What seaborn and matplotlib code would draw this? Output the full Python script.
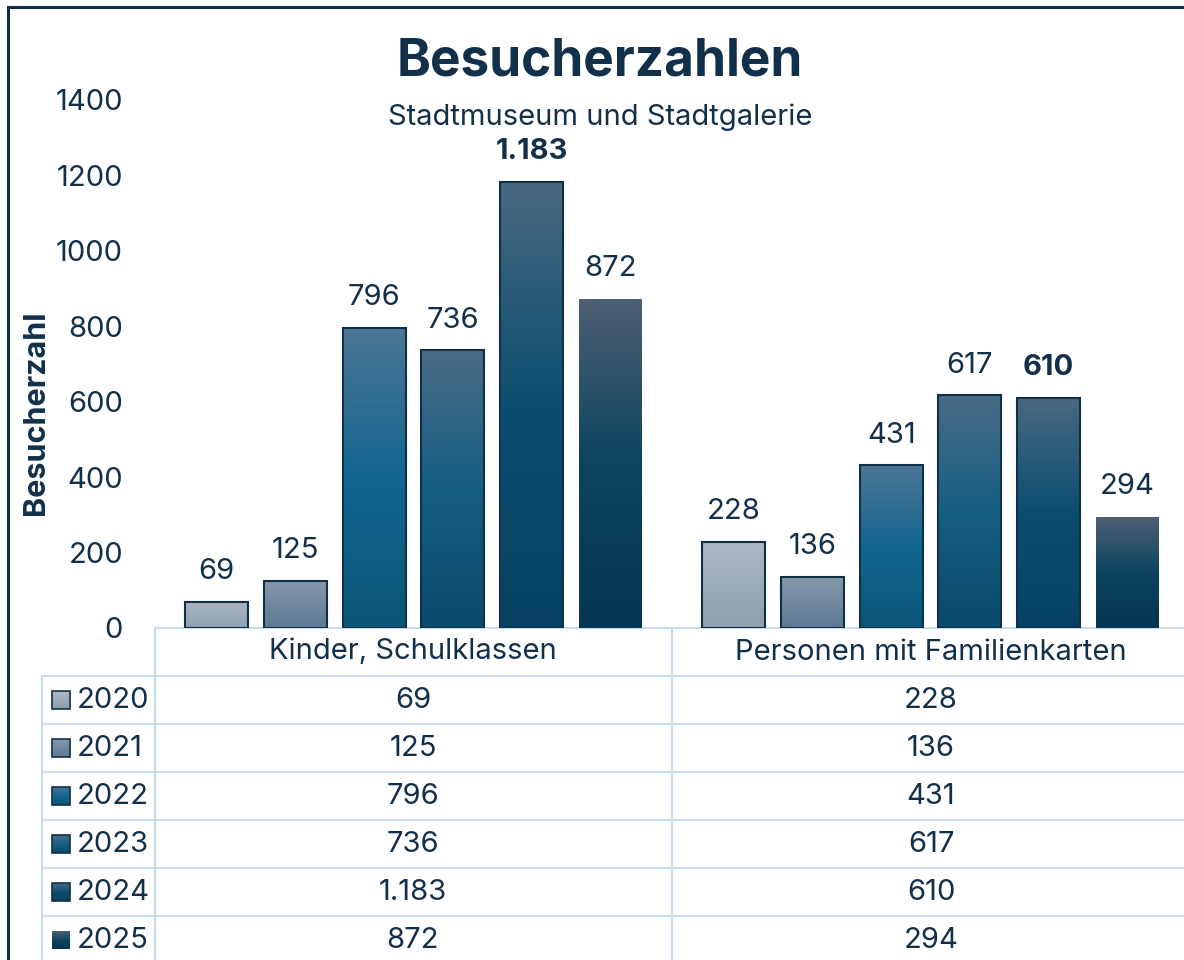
import numpy as np
import pandas as pd
import seaborn as sns
import matplotlib.pyplot as plt
from matplotlib.colors import LinearSegmentedColormap
from matplotlib.patches import Rectangle

sns.set_theme(style="white")
plt.rcParams['font.family'] = ['Inter', 'DejaVu Sans']

# data
categories = ["Kinder, Schulklassen", "Personen mit Familienkarten"]
years = ["2020", "2021", "2022", "2023", "2024", "2025"]
kinder = [69, 125, 796, 736, 1183, 872]
familien = [228, 136, 431, 617, 610, 294]
highlight_year = "2024"

# gradient stops per year: bottom, middle, top
grad_colors = {
    "2020": ["#8e9fae", "#9eacb9", "#abb7c2"],
    "2021": ["#5e7a94", "#7289a0", "#8698aa"],
    "2022": ["#0b5677", "#136690", "#4d7695"],
    "2023": ["#0a4a6b", "#155f82", "#4b6c87"],
    "2024": ["#064163", "#0c4e70", "#4a6981"],
    "2025": ["#063551", "#0c4460", "#4d5f73"],
}
text_col = "#13304b"
grid_col = "#c8dcf0"
edge_col = "#0e3149"
fs = 21

df = pd.DataFrame({
    "Kategorie": [c for c in categories for _ in years],
    "Jahr": years * 2,
    "Besucher": kinder + familien,
})

W, H = 1184, 960
fig = plt.figure(figsize=(W / 100, H / 100), dpi=100)

# main bar axes (extends a bit past the right edge like the cropped original)
ax = fig.add_axes([155 / W, (H - 628) / H, 1034 / W, 528 / H])
sns.barplot(data=df, x="Kategorie", y="Besucher", hue="Jahr", order=categories,
            hue_order=years, palette=[grad_colors[y][1] for y in years],
            width=0.913, gap=0.2, edgecolor=edge_col, linewidth=1.5,
            legend=False, ax=ax)

# gradient fill for every bar
for yr, cont in zip(years, ax.containers):
    cmap = LinearSegmentedColormap.from_list(yr, grad_colors[yr])
    grad = np.linspace(0, 1, 256).reshape(-1, 1)
    for p in cont.patches:
        x0, w, h = p.get_x(), p.get_width(), p.get_height()
        im = ax.imshow(grad, cmap=cmap, extent=[x0, x0 + w, 0, h], origin="lower",
                       aspect="auto", interpolation="bicubic", zorder=p.get_zorder() - 0.1)
        im.set_clip_path(p)
        p.set_facecolor("none")
        if yr == years[-1]:
            p.set_edgecolor("none")
    labels = [f"{v:,.0f}".replace(",", ".") for v in cont.datavalues]
    ax.bar_label(cont, labels=labels, padding=12, fontsize=fs, color=text_col,
                 fontweight="bold" if yr == highlight_year else "normal")

ax.set_xlim(-0.5, 1.5)
ax.set_ylim(0, 1400)
ax.set_yticks(range(0, 1401, 200))
ax.tick_params(axis="y", length=0, labelsize=fs, labelcolor=text_col, pad=23)
ax.set_xticks([])
ax.set_xlabel("")
ax.set_ylabel("")
sns.despine(ax=ax, left=True, bottom=True, top=True, right=True)
ax.patch.set_alpha(0)

# overlay in pixel coordinates for titles, frame and data table
ov = fig.add_axes([0, 0, 1, 1], zorder=-1)
ov.set_xlim(0, W)
ov.set_ylim(H, 0)
ov.axis("off")

ov.plot([8, 8, W + 5], [H + 5, 7, 7], color="#0e2e46", lw=2.2, solid_joinstyle="miter")

ov.text(600, 62, "Besucherzahlen", ha="center", va="center", fontsize=37,
        fontweight="bold", color=text_col)
ov.text(600, 117, "Stadtmuseum und Stadtgalerie", ha="center", va="center",
        fontsize=21, color=text_col)
ov.text(36, 413, "Besucherzahl", ha="center", va="center", rotation=90,
        fontsize=22, fontweight="bold", color=text_col)

# table grid
row_h = 48
top_rows = 676
lw = 1.5
ov.plot([155, W + 5], [628, 628], color=grid_col, lw=lw)
for i in range(len(years)):
    yy = top_rows + i * row_h
    ov.plot([42, W + 5], [yy, yy], color=grid_col, lw=lw)
ov.plot([42, 42], [top_rows, H + 5], color=grid_col, lw=lw)
ov.plot([155, 155], [628, H + 5], color=grid_col, lw=lw)
ov.plot([672, 672], [628, H + 5], color=grid_col, lw=lw)

col_x = [413, 931]
for cx, cat in zip(col_x, categories):
    ov.text(cx, 652, cat, ha="center", va="center", fontsize=fs, color=text_col)

for i, yr in enumerate(years):
    cy = top_rows + i * row_h + row_h / 2
    for cx, vals in zip(col_x, [kinder, familien]):
        ov.text(cx, cy, f"{vals[i]:,.0f}".replace(",", "."), ha="center", va="center",
                fontsize=fs, color=text_col)
    ov.text(77, cy, yr, ha="left", va="center", fontsize=fs, color=text_col)
    # legend key with gradient
    cmap = LinearSegmentedColormap.from_list("k" + yr, grad_colors[yr])
    grad = np.linspace(0, 1, 64).reshape(-1, 1)
    kx, ks = 52, 18
    ov.imshow(grad, cmap=cmap, extent=[kx, kx + ks, cy + ks / 2, cy - ks / 2],
              origin="lower", aspect="auto", interpolation="bicubic")
    if yr != years[-1]:
        ov.add_patch(Rectangle((kx, cy - ks / 2), ks, ks, fill=False,
                               edgecolor=edge_col, lw=1.2))
ov.set_xlim(0, W)
ov.set_ylim(H, 0)

fig.savefig("out.png", dpi=100)
